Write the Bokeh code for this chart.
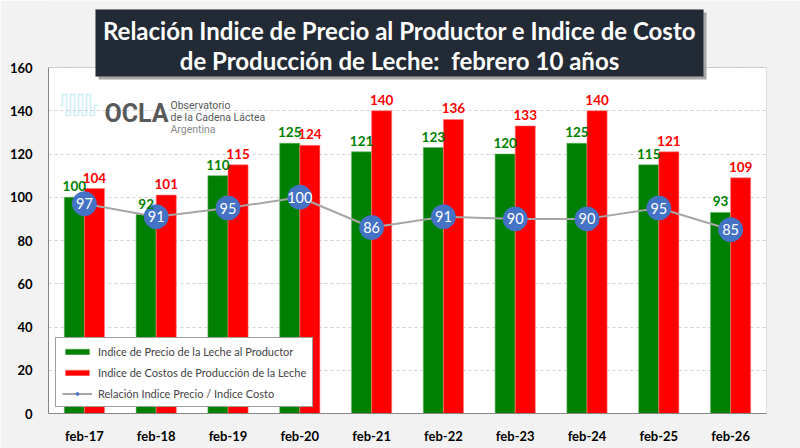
from bokeh.plotting import figure
from bokeh.models import (ColumnDataSource, Range1d, FixedTicker, Label,
                          Legend, LegendItem, PolyAnnotation, BoxAnnotation)
from bokeh.transform import dodge
from bokeh.core.properties import value
from bokeh.embed import file_html
from bokeh.resources import INLINE

meses = ["feb-17", "feb-18", "feb-19", "feb-20", "feb-21",
         "feb-22", "feb-23", "feb-24", "feb-25", "feb-26"]
precio = [100, 92, 110, 125, 121, 123, 120, 125, 115, 93]
costo = [104, 101, 115, 124, 140, 136, 133, 140, 121, 109]
relacion = [97, 91, 95, 100, 86, 91, 90, 90, 95, 85]
y_ticks = [0, 20, 40, 60, 80, 100, 120, 140, 160]

titulo_1 = "Relación Indice de Precio al Productor e Indice de Costo"
titulo_2 = "de Producción de Leche:\u00a0 febrero 10 años"
lbl_precio = "Indice de Precio de la Leche al Productor"
lbl_costo = "Indice de Costos de Producción de la Leche"
lbl_relacion = "Relación Indice Precio / Indice Costo"

VERDE = "#008000"
ROJO = "#ff0000"
AZUL = "#4472c4"
FUENTE = "Lato"

# el area de datos (0-160) ocupa 346 px; por encima queda espacio para el titulo
Y_MAX = 160
Y_TOP = Y_MAX * 413 / 346

src = ColumnDataSource(dict(
    mes=meses,
    precio=precio,
    costo=costo,
    relacion=relacion,
    precio_txt=[str(v) for v in precio],
    costo_txt=[str(v) for v in costo],
    relacion_txt=[str(v) for v in relacion],
))

p = figure(
    title=None,
    x_range=meses,
    y_range=Range1d(0, Y_TOP),
    width=800,
    height=448,
    output_backend="svg",
    toolbar_location=None,
    min_border_left=48,
    min_border_right=34,
    min_border_top=0,
    min_border_bottom=35,
)
p.border_fill_color = "#f2f2f2"
p.background_fill_color = "#f2f2f2"
p.outline_line_color = None

# area blanca del grafico con su marco
p.add_layout(BoxAnnotation(bottom=0, top=Y_MAX, fill_color="white", fill_alpha=1,
                           line_color="#595959", line_width=1, level="image"))

# barras
g = p.vbar(x=dodge("mes", -0.14, range=p.x_range), top="precio", width=0.28,
           source=src, fill_color=VERDE, line_color="#66b366", line_width=0.6)
r = p.vbar(x=dodge("mes", 0.14, range=p.x_range), top="costo", width=0.28,
           source=src, fill_color=ROJO, line_color="#ff8080", line_width=0.6)

# relacion precio / costo
ln = p.line(x="mes", y="relacion", source=src, line_color="#a6a6a6", line_width=2)
sc = p.scatter(x="mes", y="relacion", source=src, size=24,
               fill_color=AZUL, line_color=AZUL)
p.text(x="mes", y="relacion", text="relacion_txt", source=src,
       text_align="center", text_baseline="middle",
       text_font=value(FUENTE), text_font_size="14.5px", text_color="white")

# valores sobre las barras
p.text(x=dodge("mes", -0.14, range=p.x_range), y="precio", text="precio_txt",
       source=src, text_align="center", text_baseline="bottom", y_offset=-6,
       text_font=value(FUENTE), text_font_style="bold", text_font_size="13.5px",
       text_color=VERDE)
p.text(x=dodge("mes", 0.14, range=p.x_range), y="costo", text="costo_txt",
       source=src, text_align="center", text_baseline="bottom", y_offset=-6,
       text_font=value(FUENTE), text_font_style="bold", text_font_size="13.5px",
       text_color=ROJO)

# ejes
p.yaxis.ticker = FixedTicker(ticks=y_ticks)
p.yaxis.bounds = (0, Y_MAX)
for ax in (p.xaxis, p.yaxis):
    ax.axis_line_color = "#868686"
    ax.major_tick_line_color = None
    ax.minor_tick_line_color = None
    ax.major_label_text_font = FUENTE
    ax.major_label_text_font_style = "bold"
    ax.major_label_text_font_size = "13px"
    ax.major_label_text_color = "black"
p.yaxis.major_label_standoff = 10
p.xaxis.major_label_standoff = 8

p.xgrid.grid_line_color = None
p.ygrid.grid_line_color = "#d0d0d0"
p.ygrid.grid_line_dash = "3 3"

# leyenda
legend = Legend(
    items=[
        LegendItem(label=lbl_precio, renderers=[g]),
        LegendItem(label=lbl_costo, renderers=[r]),
        LegendItem(label=lbl_relacion, renderers=[ln, sc]),
    ],
    location=(7, 6),
    margin=0,
    padding=6,
    spacing=7,
    label_height=14,
    glyph_height=7,
    glyph_width=30,
    label_standoff=6,
    label_text_font=FUENTE,
    label_text_font_size="11px",
    border_line_color="#404040",
    border_line_width=1,
    background_fill_alpha=1,
)
p.add_layout(legend)

# titulo: caja oscura con sombra y dos lineas de texto
p.add_layout(BoxAnnotation(
    left=50, right=658, top=401, bottom=334,
    left_units="screen", right_units="screen", top_units="screen", bottom_units="screen",
    fill_color="#a6a6a6", fill_alpha=1, line_color=None, level="overlay",
))
p.add_layout(BoxAnnotation(
    left=47, right=655, top=404, bottom=337,
    left_units="screen", right_units="screen", top_units="screen", bottom_units="screen",
    fill_color="#222a35", fill_alpha=1, line_color="#7f7f7f", line_width=1,
    level="overlay",
))
for txt, yy in ((titulo_1, 383), (titulo_2, 353)):
    p.add_layout(Label(
        x=351, y=yy, x_units="screen", y_units="screen", text=txt,
        text_align="center", text_baseline="middle",
        text_font=FUENTE, text_font_style="bold", text_font_size="24px",
        text_color="white", level="overlay",
    ))

# logo OCLA
wave_x = [12, 14, 14, 18, 18, 22, 22, 26, 26, 30, 30, 34, 34, 38, 38, 42, 42, 46, 46, 50]
wave_y = [308, 308, 319, 319, 298, 298, 319, 319, 298, 298, 319, 319, 298, 298, 319, 319, 298, 298, 308, 308]
p.add_layout(PolyAnnotation(
    xs=wave_x + wave_x[::-1], ys=wave_y + wave_y[::-1],
    xs_units="screen", ys_units="screen",
    fill_alpha=0, line_color="#5bc3e6", line_width=1.5,
))
p.add_layout(Label(x=56, y=300, x_units="screen", y_units="screen", text="OCLA",
                   text_font="Roboto", text_font_style="bold", text_font_size="25px",
                   text_color="#58595b", text_baseline="alphabetic"))
for txt, yy, col in (("Observatorio", 308, "#58595b"),
                     ("de la Cadena Láctea", 296, "#58595b"),
                     ("Argentina", 284, "#8a8a8a")):
    p.add_layout(Label(x=122, y=yy, x_units="screen", y_units="screen", text=txt,
                       text_font="Roboto", text_font_size="10.5px", text_color=col,
                       text_baseline="alphabetic"))

open("out.html", "w").write(file_html(p, INLINE))
